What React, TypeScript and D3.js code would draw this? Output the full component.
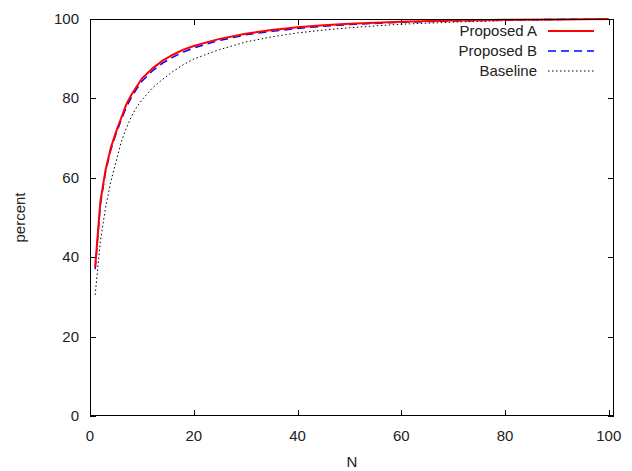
import React from 'react';
import * as d3 from 'd3';

const nValues = [1, 2, 3, 4, 5, 6, 7, 8, 9, 10, 12, 14, 16, 18, 20, 23, 25, 30, 35, 40, 45, 50, 60, 70, 80, 90, 100];
const proposedA = [37.5, 54, 62, 67.5, 71.5, 75, 78.5, 81, 83, 85, 87.5, 89.5, 91, 92.3, 93.2, 94.3, 95, 96.3, 97.2, 97.9, 98.4, 98.8, 99.3, 99.6, 99.8, 99.9, 100];
const proposedB = [37, 53.2, 61.5, 67, 71, 74.5, 77.8, 80.3, 82.4, 84.3, 86.9, 88.9, 90.4, 91.7, 92.7, 93.9, 94.6, 96, 96.9, 97.6, 98.2, 98.6, 99.2, 99.5, 99.7, 99.9, 100];
const baseline = [30.5, 44, 52.5, 59, 64, 69, 72.5, 75.5, 77.8, 79.6, 82.6, 84.8, 86.8, 88.5, 89.9, 91.4, 92.3, 94.2, 95.5, 96.5, 97.2, 97.8, 98.7, 99.2, 99.6, 99.8, 100];

const xTicks = [0, 20, 40, 60, 80, 100];
const yTicks = [0, 20, 40, 60, 80, 100];

const series = [
  { name: 'Proposed B', values: proposedB, color: '#0000ff', width: 1.5, dash: '8,5' },
  { name: 'Baseline', values: baseline, color: '#000000', width: 1, dash: '1.5,2.5' },
  { name: 'Proposed A', values: proposedA, color: '#ff0000', width: 2, dash: null },
];
const legendOrder = ['Proposed A', 'Proposed B', 'Baseline'];

const W = 632, H = 471;
const margin = { top: 19, right: 18, bottom: 55, left: 90 };
const font = '"Liberation Sans", Arial, sans-serif';
const textColor = '#222';

export default function App() {
  const x = d3.scaleLinear().domain([0, 101]).range([margin.left, W - margin.right]);
  const y = d3.scaleLinear().domain([0, 100]).range([H - margin.bottom, margin.top]);

  const line = d3.line<number>()
    .x((_, i) => x(nValues[i]))
    .y(d => y(d));

  const x0 = x.range()[0], x1 = x.range()[1];
  const y0 = y.range()[0], y1 = y.range()[1];
  const tickLen = 6;

  return (
    <svg width={W} height={H} style={{ position: 'fixed', left: 0, top: 0, background: '#fff' }}>
      <rect x={0} y={0} width={W} height={H} fill="#fff" />

      {/* ticks, mirrored on all four sides */}
      {xTicks.map(t => (
        <g key={'xt' + t}>
          <line x1={Math.round(x(t)) + 0.5} x2={Math.round(x(t)) + 0.5} y1={y0} y2={y0 - tickLen} stroke="#000" />
          <line x1={Math.round(x(t)) + 0.5} x2={Math.round(x(t)) + 0.5} y1={y1} y2={y1 + tickLen} stroke="#000" />
          <text x={x(t)} y={441} textAnchor="middle" fontFamily={font} fontSize={15} fill={textColor}>{t}</text>
        </g>
      ))}
      {yTicks.map(t => (
        <g key={'yt' + t}>
          <line x1={x0} x2={x0 + tickLen} y1={Math.round(y(t)) + 0.5} y2={Math.round(y(t)) + 0.5} stroke="#000" />
          <line x1={x1} x2={x1 - tickLen} y1={Math.round(y(t)) + 0.5} y2={Math.round(y(t)) + 0.5} stroke="#000" />
          <text x={79} y={y(t) + 5} textAnchor="end" fontFamily={font} fontSize={15} fill={textColor}>{t}</text>
        </g>
      ))}

      {/* curves */}
      {series.map(s => (
        <path key={s.name} d={line(s.values) || ''} fill="none" stroke={s.color}
          strokeWidth={s.width} strokeDasharray={s.dash || undefined} />
      ))}

      {/* frame */}
      <rect x={x0 + 0.5} y={y1 + 0.5} width={x1 - x0 - 1} height={y0 - y1 - 1} fill="none" stroke="#000" />

      {/* legend */}
      {legendOrder.map((name, i) => {
        const s = series.find(d => d.name === name)!;
        const ly = 31 + i * 20;
        return (
          <g key={'lg' + name}>
            <text x={537} y={ly + 5} textAnchor="end" fontFamily={font} fontSize={15} fill={textColor}>{name}</text>
            <line x1={548} x2={594} y1={ly} y2={ly} stroke={s.color} strokeWidth={s.width}
              strokeDasharray={s.dash || undefined} />
          </g>
        );
      })}

      {/* axis titles */}
      <text x={(x0 + x1) / 2} y={467} textAnchor="middle" fontFamily={font} fontSize={15} fill={textColor}>N</text>
      <text transform={`translate(25,${(y0 + y1) / 2}) rotate(-90)`} textAnchor="middle"
        fontFamily={font} fontSize={15} fill={textColor}>percent</text>
    </svg>
  );
}
